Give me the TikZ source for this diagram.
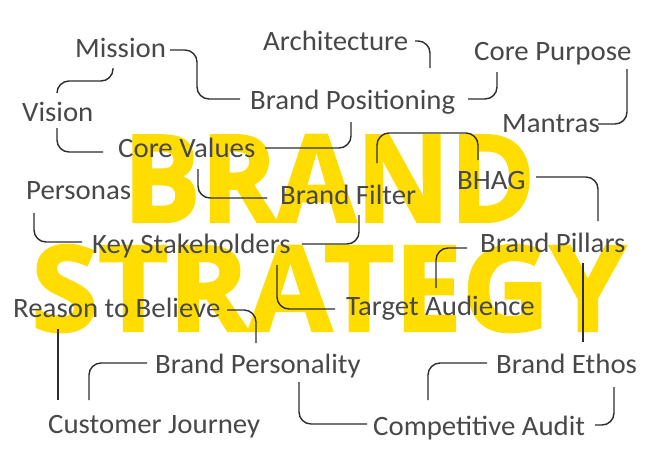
\documentclass[tikz,border=0pt]{standalone}
\usepackage{fontspec}
\setmainfont{Carlito}[FakeStretch=1.03]
\newfontfamily\bigfont{Open Sans}[FakeBold=2]
\usetikzlibrary{calc}
\definecolor{brandyellow}{RGB}{255,221,0}
\definecolor{labelgray}{RGB}{72,72,72}
\definecolor{linegray}{RGB}{45,45,45}
\tikzset{
  lbl/.style={anchor=base west, inner sep=0pt, font=\fontsize{28pt}{30pt}\selectfont, text=labelgray},
  big/.style={anchor=base west, inner sep=0pt, text=brandyellow},
  conn/.style={draw=linegray, line width=1.4pt, rounded corners=12pt}
}
\begin{document}
\begin{tikzpicture}[x=1pt,y=-1pt]
\useasboundingbox[fill=white] (0,0) rectangle (650,459);
% background words
\node[big] (brandword) at (123,222) {\resizebox{412pt}{87pt}{\bigfont\bfseries BRAND}};
\node[big] (strategyword) at (31,331) {\resizebox{594pt}{86pt}{\bigfont\bfseries STRATEGY}};
% labels
\node[lbl] (mission) at (75,57) {Mission};
\node[lbl] (arch) at (263,50) {Architecture};
\node[lbl] (cpurpose) at (474,60) {Core Purpose};
\node[lbl] (vision) at (22,121) {Vision};
\node[lbl] (bpos) at (250,109) {Brand Positioning};
\node[lbl] (mantras) at (502,132) {Mantras};
\node[lbl] (cvalues) at (118,157) {Core Values};
\node[lbl] (personas) at (26,199) {Personas};
\node[lbl] (bfilter) at (280,204) {Brand Filter};
\node[lbl] (bhag) at (457,189) {BHAG};
\node[lbl] (kstake) at (92,253) {Key Stakeholders};
\node[lbl] (bpillars) at (480,252) {Brand Pillars};
\node[lbl] (rtb) at (13,317) {Reason to Believe};
\node[lbl] (taud) at (346,315) {Target Audience};
\node[lbl] (bpers) at (155,373) {Brand Personality};
\node[lbl] (bethos) at (496,373) {Brand Ethos};
\node[lbl] (cjourney) at (48,433) {Customer Journey};
\node[lbl] (caudit) at (373,435) {Competitive Audit};
% connectors
\draw[conn] ([shift={(95,-7)}]mission.base west) -| (197,75) |- ([shift={(-10,-10)}]bpos.base west);
\draw[conn] ([shift={(38,11)}]mission.base west) |- (85,81) -| ([shift={(35,-28)}]vision.base west);
\draw[conn] ([shift={(35,7)}]vision.base west) |- ([shift={(-15,-5)}]cvalues.base west);
\draw[conn] ([shift={(152,-9)}]arch.base west) -| ([shift={(180,-41)}]bpos.base west);
\draw[conn] ([shift={(23,12)}]cpurpose.base west) |- ([shift={(218,-10)}]bpos.base west);
\draw[conn] ([shift={(153,9)}]cpurpose.base west) |- ([shift={(96,-8)}]mantras.base west);
\draw[conn] ([shift={(101,13)}]bpos.base west) |- ([shift={(147,-9)}]cvalues.base west);
\draw[conn] ([shift={(97,-41)}]bfilter.base west) |- (430,133) -| ([shift={(21,-29)}]bhag.base west);
\draw[conn] ([shift={(80,12)}]cvalues.base west) |- ([shift={(-13,-6)}]bfilter.base west);
\draw[conn] ([shift={(79,-12)}]bhag.base west) -| ([shift={(118,-31)}]bpillars.base west);
\draw[conn] ([shift={(8,14)}]personas.base west) |- ([shift={(-10,-11)}]kstake.base west);
\draw[conn] ([shift={(79,11)}]bfilter.base west) |- ([shift={(210,-9)}]kstake.base west);
\draw[conn] ([shift={(185,12)}]kstake.base west) |- ([shift={(-11,-6)}]taud.base west);
\draw[conn] ([shift={(-13,-4)}]bpillars.base west) -| ([shift={(90,-27)}]taud.base west);
\draw[conn] ([shift={(103,11)}]bpillars.base west) -- ([shift={(87,-31)}]bethos.base west);
\draw[conn] ([shift={(214,-7)}]rtb.base west) -| ([shift={(101,-30)}]bpers.base west);
\draw[conn] ([shift={(45,12)}]rtb.base west) -- ([shift={(10,-33)}]cjourney.base west);
\draw[conn] ([shift={(-8,-10)}]bpers.base west) -| ([shift={(41,-33)}]cjourney.base west);
\draw[conn] ([shift={(144,9)}]bpers.base west) |- ([shift={(-6,-11)}]caudit.base west);
\draw[conn] ([shift={(-9,-10)}]bethos.base west) -| ([shift={(55,-35)}]caudit.base west);
\draw[conn] ([shift={(118,14)}]bethos.base west) |- ([shift={(222,-10)}]caudit.base west);
\end{tikzpicture}
\end{document}
